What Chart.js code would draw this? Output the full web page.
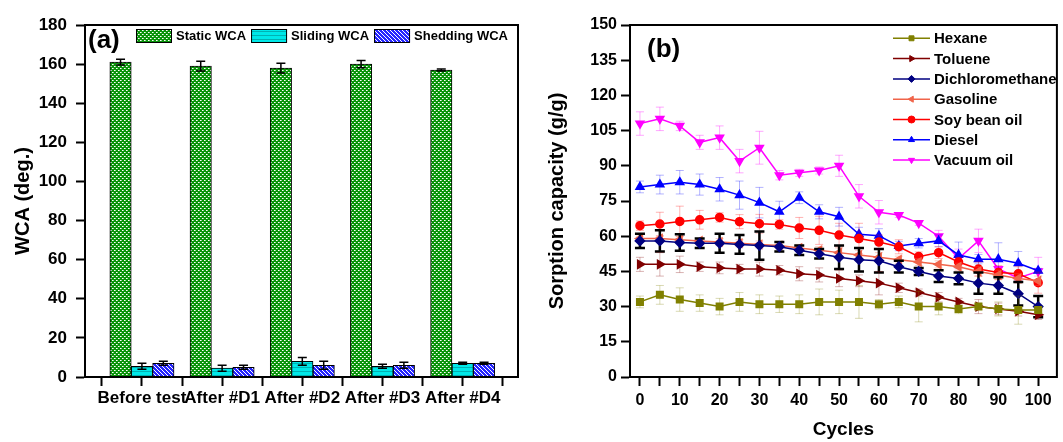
<!DOCTYPE html>
<html>
<head>
<meta charset="utf-8">
<title>WCA and sorption capacity</title>
<script src="https://cdn.jsdelivr.net/npm/chart.js@4.4.1/dist/chart.umd.min.js"></script>
<style>
  body { margin: 0; background: #fff; }
  #wrap { position: relative; width: 1063px; height: 442px; overflow: hidden; }
  #wcaChart { position: absolute; left: 0; top: 0; }
  #sorpChart { position: absolute; left: 530px; top: 0; }
</style>
</head>
<body>
<div id="wrap">
  <canvas id="wcaChart" width="530" height="442"></canvas>
  <canvas id="sorpChart" width="533" height="442"></canvas>
</div>
<script>
// Panel (a) data
const testLabels = ["Before test", "After #D1", "After #D2", "After #D3", "After #D4"];
const testPos = [1, 2, 3, 4, 5];
const staticWCA = [161, 159, 158, 160, 157];
const staticErr = [1.5, 2.5, 2.5, 1.8, 0.5];
const slidingWCA = [5.5, 4.5, 8, 5.5, 7];
const slidingErr = [1.5, 1.5, 2, 1, 0.5];
const sheddingWCA = [7, 5, 6, 6, 7];
const sheddingErr = [1, 1, 2, 1.5, 0.5];
const wcaTicks = [0, 10, 20, 30, 40, 50, 60, 70, 80, 90, 100, 110, 120, 130, 140, 150, 160, 170, 180];
const testTicks = [0.5, 1, 1.5, 2, 2.5, 3, 3.5, 4, 4.5, 5, 5.5];

// Panel (b) data
const cycles = [0, 5, 10, 15, 20, 25, 30, 35, 40, 45, 50, 55, 60, 65, 70, 75, 80, 85, 90, 95, 100];
const hexane = [32, 35, 33, 31.5, 30, 32, 31, 31, 31, 32, 32, 32, 31, 32, 30, 30, 29, 30, 29, 28.5, 28.5];
const hexaneErr = [2.5, 4, 5, 3.5, 3.5, 4, 4, 3.5, 4, 5.5, 5, 7, 2, 2.5, 6.5, 3.5, 2, 1, 3, 6, 1];
const toluene = [48, 48, 48, 47, 46.5, 46, 46, 45.5, 44, 43.5, 42, 41, 40, 38, 36, 34, 32, 30, 29, 28, 26.5];
const tolueneErr = [3, 5, 3.5, 2, 2.5, 2, 3, 2, 3, 3, 3.5, 2.5, 5, 2, 1.5, 2, 1.5, 3, 2.5, 2, 2];
const dcm = [58, 58, 57.3, 57, 57, 56.5, 56, 55.5, 54, 52.5, 51, 50, 49.5, 47, 45, 43, 42, 40, 39, 35.5, 30];
const dcmErr = [3, 4.5, 3.5, 2, 4, 4, 6, 2, 2, 2, 5, 5, 5, 2.5, 1.5, 2.5, 2.5, 4.5, 3.5, 5, 4.5];
const gasoline = [59, 59, 58.5, 58, 57.5, 57, 56.5, 56, 55, 54, 53, 52, 51, 50, 49, 48, 47, 45, 43.5, 42, 41];
const gasolineErr = [1, 1, 1.5, 1, 1.5, 1.5, 1.5, 1.5, 1.5, 1.5, 2, 2, 2, 1.5, 1.5, 1.5, 1.5, 2, 2, 2, 2];
const soyOil = [64.5, 65.2, 66.3, 67, 68, 66.2, 65.3, 65, 63.5, 62.5, 60.5, 59, 57.5, 55.5, 51.3, 53, 49, 46, 44.5, 44, 40.2];
const soyOilErr = [2, 5, 6.5, 4, 2, 3, 4, 2, 4.5, 6, 5, 6.5, 3, 3, 2, 2.5, 2, 3, 3, 3, 4.5];
const diesel = [81, 82, 83, 82, 80, 77.5, 74.3, 70.4, 76.4, 70.4, 68.3, 60.8, 60.2, 55.8, 57, 58, 52, 50.2, 50.2, 48.5, 45.3];
const dieselErr = [2.5, 4, 5, 4.5, 5, 6, 6.5, 4.5, 2.5, 3, 4, 3, 3, 2, 2, 2.5, 5.5, 2, 7, 5, 1];
const vacuumOil = [108, 110, 107, 100, 102, 92, 97.7, 86, 87, 88, 90, 77, 70.2, 69, 65.6, 60, 50.5, 58, 46, 42.2, 45];
const vacuumOilErr = [5, 5, 2, 3, 5, 5, 7, 2, 1.5, 1.5, 4.5, 5, 5, 1, 1, 2.5, 4, 5, 1, 1, 6];
const sorpTicks = [0, 7.5, 15, 22.5, 30, 37.5, 45, 52.5, 60, 67.5, 75, 82.5, 90, 97.5, 105, 112.5, 120, 127.5, 135, 142.5, 150];
const cycleTicks = [0, 5, 10, 15, 20, 25, 30, 35, 40, 45, 50, 55, 60, 65, 70, 75, 80, 85, 90, 95, 100];

const FONT = "'Liberation Sans', Arial, sans-serif";
Chart.defaults.font.family = FONT;
Chart.defaults.font.weight = "bold";
Chart.defaults.color = "#000";

// bar fill patterns
function makePattern(draw) {
  const c = document.createElement("canvas");
  c.width = 4;
  c.height = 4;
  const g = c.getContext("2d");
  draw(g);
  return g.createPattern(c, "repeat");
}
const staticFill = makePattern((g) => {
  g.fillStyle = "#0a940a";
  g.fillRect(0, 0, 4, 4);
  g.fillStyle = "#9fd69f";
  g.fillRect(1, 0, 1, 1);
  g.fillRect(3, 2, 1, 1);
  g.fillStyle = "#fff";
  g.fillRect(0, 0, 1, 1);
  g.fillRect(2, 2, 1, 1);
});
const slidingFill = makePattern((g) => {
  g.fillStyle = "#00e8e8";
  g.fillRect(0, 0, 4, 4);
  g.fillStyle = "#00b2b2";
  g.fillRect(0, 3, 4, 1);
});
const sheddingFill = makePattern((g) => {
  g.fillStyle = "#2525ff";
  g.fillRect(0, 0, 4, 4);
  g.fillStyle = "#fff";
  for (let i = 0; i < 4; i++) g.fillRect(i, i, 1, 1);
});

function drawErrors(chart, index) {
  const ds = chart.data.datasets[index];
  if (!ds.errors) return;
  const meta = chart.getDatasetMeta(index);
  const yScale = chart.scales[meta.yAxisID];
  const ctx = chart.ctx;
  const c = ds.capWidth / 2;
  ctx.save();
  ctx.strokeStyle = ds.errorColor;
  ctx.lineWidth = ds.errorWidth;
  meta.data.forEach((el, i) => {
    const v = ds.data[i].y;
    const e = ds.errors[i];
    const top = yScale.getPixelForValue(v + e);
    const bot = yScale.getPixelForValue(v - e);
    ctx.beginPath();
    ctx.moveTo(el.x, top);
    ctx.lineTo(el.x, bot);
    ctx.moveTo(el.x - c, top);
    ctx.lineTo(el.x + c, top);
    ctx.moveTo(el.x - c, bot);
    ctx.lineTo(el.x + c, bot);
    ctx.stroke();
  });
  ctx.restore();
}

const errorBars = {
  id: "errorBars",
  beforeDatasetDraw(chart, args) {
    if (!chart.data.datasets[args.index].errorsOnTop) drawErrors(chart, args.index);
  },
  afterDatasetDraw(chart, args) {
    if (chart.data.datasets[args.index].errorsOnTop) drawErrors(chart, args.index);
  },
};

// box around plot area + panel letter
const frame = {
  id: "frame",
  afterDraw(chart, args, opts) {
    const { ctx, chartArea: a } = chart;
    ctx.save();
    ctx.strokeStyle = "#000";
    ctx.lineWidth = 2;
    ctx.strokeRect(a.left, a.top, a.right - a.left, a.bottom - a.top);
    ctx.font = "bold 26px " + FONT;
    ctx.fillStyle = "#000";
    ctx.textBaseline = "middle";
    ctx.fillText(opts.text, a.left + opts.dx, a.top + opts.dy);
    ctx.restore();
  },
};

const barLegend = {
  id: "barLegend",
  afterDraw(chart) {
    const { ctx, chartArea } = chart;
    let x = chartArea.left + 51;
    const y = chartArea.top + 4;
    ctx.save();
    ctx.font = "bold 13px " + FONT;
    ctx.textBaseline = "middle";
    chart.data.datasets.forEach((ds) => {
      ctx.fillStyle = ds.backgroundColor;
      ctx.fillRect(x, y, 36, 14);
      ctx.strokeStyle = "#000";
      ctx.lineWidth = 1;
      ctx.strokeRect(x + 0.5, y + 0.5, 35, 13);
      ctx.fillStyle = "#000";
      ctx.fillText(ds.label, x + 40, y + 7.5);
      x += 45 + ctx.measureText(ds.label).width;
    });
    ctx.restore();
  },
};

const lineLegend = {
  id: "lineLegend",
  afterDraw(chart) {
    const { ctx, chartArea } = chart;
    const x0 = chartArea.left + 263;
    ctx.save();
    ctx.font = "bold 15px " + FONT;
    ctx.textBaseline = "middle";
    chart.data.datasets.forEach((ds, i) => {
      const y = chartArea.top + 13.3 + i * 20.3;
      ctx.strokeStyle = ds.borderColor;
      ctx.fillStyle = ds.borderColor;
      ctx.lineWidth = 1.5;
      ctx.beginPath();
      ctx.moveTo(x0, y);
      ctx.lineTo(x0 + 37, y);
      ctx.stroke();
      ctx.lineWidth = 1;
      Chart.helpers.drawPoint(ctx, {
        pointStyle: ds.pointStyle,
        rotation: ds.pointRotation || 0,
        radius: 3.5,
        borderWidth: 1,
      }, x0 + 18.5, y);
      ctx.fillStyle = "#000";
      ctx.fillText(ds.label, x0 + 41, y + 1);
    });
    ctx.restore();
  },
};

function pairs(xs, ys) {
  return xs.map((x, i) => ({ x: x, y: ys[i] }));
}

// ---------- panel (a) ----------
function barSet(label, values, errors, fill) {
  return {
    label: label,
    data: pairs(testPos, values),
    backgroundColor: fill,
    borderColor: "#000",
    borderWidth: 1,
    errors: errors,
    errorsOnTop: true,
    errorColor: "#000",
    errorWidth: 1.5,
    capWidth: 9,
  };
}

new Chart(document.getElementById("wcaChart"), {
  type: "bar",
  data: {
    datasets: [
      barSet("Static WCA", staticWCA, staticErr, staticFill),
      barSet("Sliding WCA", slidingWCA, slidingErr, slidingFill),
      barSet("Shedding WCA", sheddingWCA, sheddingErr, sheddingFill),
    ],
  },
  options: {
    responsive: false,
    animation: false,
    layout: { padding: { top: 25, right: 12, left: 0, bottom: 0 } },
    datasets: { bar: { barThickness: 21.4 } },
    plugins: {
      legend: { display: false },
      tooltip: { enabled: false },
      frame: { text: "(a)", dx: 3, dy: 16 },
    },
    scales: {
      x: {
        type: "linear",
        offset: false,
        min: 0.29,
        max: 5.69,
        afterBuildTicks: (s) => { s.ticks = testTicks.map((v) => ({ value: v })); },
        afterFit: (s) => { s.height = 65; },
        ticks: {
          autoSkip: false,
          maxRotation: 0,
          minRotation: 0,
          padding: 2,
          font: { size: 17, weight: "bold" },
          callback: (v) => (Number.isInteger(v) ? testLabels[v - 1] : ""),
        },
        grid: { offset: false, drawOnChartArea: false, tickLength: 9, tickWidth: 2, tickColor: "#000" },
        border: { color: "#000", width: 2 },
      },
      y: {
        min: 0,
        max: 180,
        afterBuildTicks: (s) => { s.ticks = wcaTicks.map((v) => ({ value: v })); },
        afterFit: (s) => { s.width = 85; },
        ticks: {
          padding: 9,
          font: { size: 17, weight: "bold" },
          callback: (v) => (v % 20 === 0 ? String(v) : ""),
        },
        grid: { drawOnChartArea: false, tickLength: 9, tickWidth: 2, tickColor: "#000" },
        border: { color: "#000", width: 2 },
        title: {
          display: true,
          text: "WCA (deg.)",
          font: { size: 20, weight: "bold" },
          padding: { top: 11, bottom: 0 },
        },
      },
    },
  },
  plugins: [errorBars, frame, barLegend],
});

// ---------- panel (b) ----------
function lineSet(label, values, errors, color, style, rotation, errColor, errWidth, cap) {
  return {
    label: label,
    data: pairs(cycles, values),
    borderColor: color,
    backgroundColor: color,
    pointBackgroundColor: color,
    pointBorderColor: color,
    borderWidth: 1.5,
    pointStyle: style,
    pointRotation: rotation,
    pointRadius: style === "circle" ? 4 : 4.6,
    errors: errors,
    errorsOnTop: false,
    errorColor: errColor,
    errorWidth: errWidth,
    capWidth: cap,
  };
}

new Chart(document.getElementById("sorpChart"), {
  type: "line",
  data: {
    datasets: [
      lineSet("Hexane", hexane, hexaneErr, "#808000", "rect", 0, "rgba(128,128,0,0.3)", 1, 8),
      lineSet("Toluene", toluene, tolueneErr, "#800000", "triangle", 90, "rgba(128,0,0,0.3)", 1, 8),
      lineSet("Dichloromethane", dcm, dcmErr, "#000080", "rectRot", 0, "#000", 2.5, 10),
      lineSet("Gasoline", gasoline, gasolineErr, "#f0644a", "triangle", -90, "rgba(240,100,74,0.35)", 1, 8),
      lineSet("Soy bean oil", soyOil, soyOilErr, "#ff0000", "circle", 0, "rgba(255,0,0,0.3)", 1, 8),
      lineSet("Diesel", diesel, dieselErr, "#0000ff", "triangle", 0, "rgba(0,0,255,0.3)", 1, 8),
      lineSet("Vacuum oil", vacuumOil, vacuumOilErr, "#ff00ff", "triangle", 180, "rgba(255,0,255,0.35)", 1, 8),
    ],
  },
  options: {
    responsive: false,
    animation: false,
    layout: { padding: { top: 25, right: 1, left: 0, bottom: 0 } },
    plugins: {
      legend: { display: false },
      tooltip: { enabled: false },
      frame: { text: "(b)", dx: 17, dy: 25 },
    },
    scales: {
      x: {
        type: "linear",
        min: -2.5,
        max: 104.7,
        afterBuildTicks: (s) => { s.ticks = cycleTicks.map((v) => ({ value: v })); },
        afterFit: (s) => { s.height = 65; },
        ticks: {
          autoSkip: false,
          maxRotation: 0,
          padding: 5,
          font: { size: 16, weight: "bold" },
          callback: (v) => (v % 10 === 0 ? String(v) : ""),
        },
        grid: { drawOnChartArea: false, tickLength: 9, tickWidth: 2, tickColor: "#000" },
        border: { color: "#000", width: 2 },
        title: {
          display: true,
          text: "Cycles",
          font: { size: 19, weight: "bold" },
          padding: { top: 0, bottom: 1 },
        },
      },
      y: {
        min: 0,
        max: 150,
        afterBuildTicks: (s) => { s.ticks = sorpTicks.map((v) => ({ value: v })); },
        afterFit: (s) => { s.width = 100; },
        ticks: {
          padding: 4,
          font: { size: 16, weight: "bold" },
          callback: (v) => (v % 15 === 0 ? String(v) : ""),
        },
        grid: { drawOnChartArea: false, tickLength: 9, tickWidth: 2, tickColor: "#000" },
        border: { color: "#000", width: 2 },
        title: {
          display: true,
          text: "Sorption capacity (g/g)",
          font: { size: 20, weight: "bold" },
          padding: { top: 15, bottom: 0 },
        },
      },
    },
  },
  plugins: [errorBars, frame, lineLegend],
});
</script>
</body>
</html>
